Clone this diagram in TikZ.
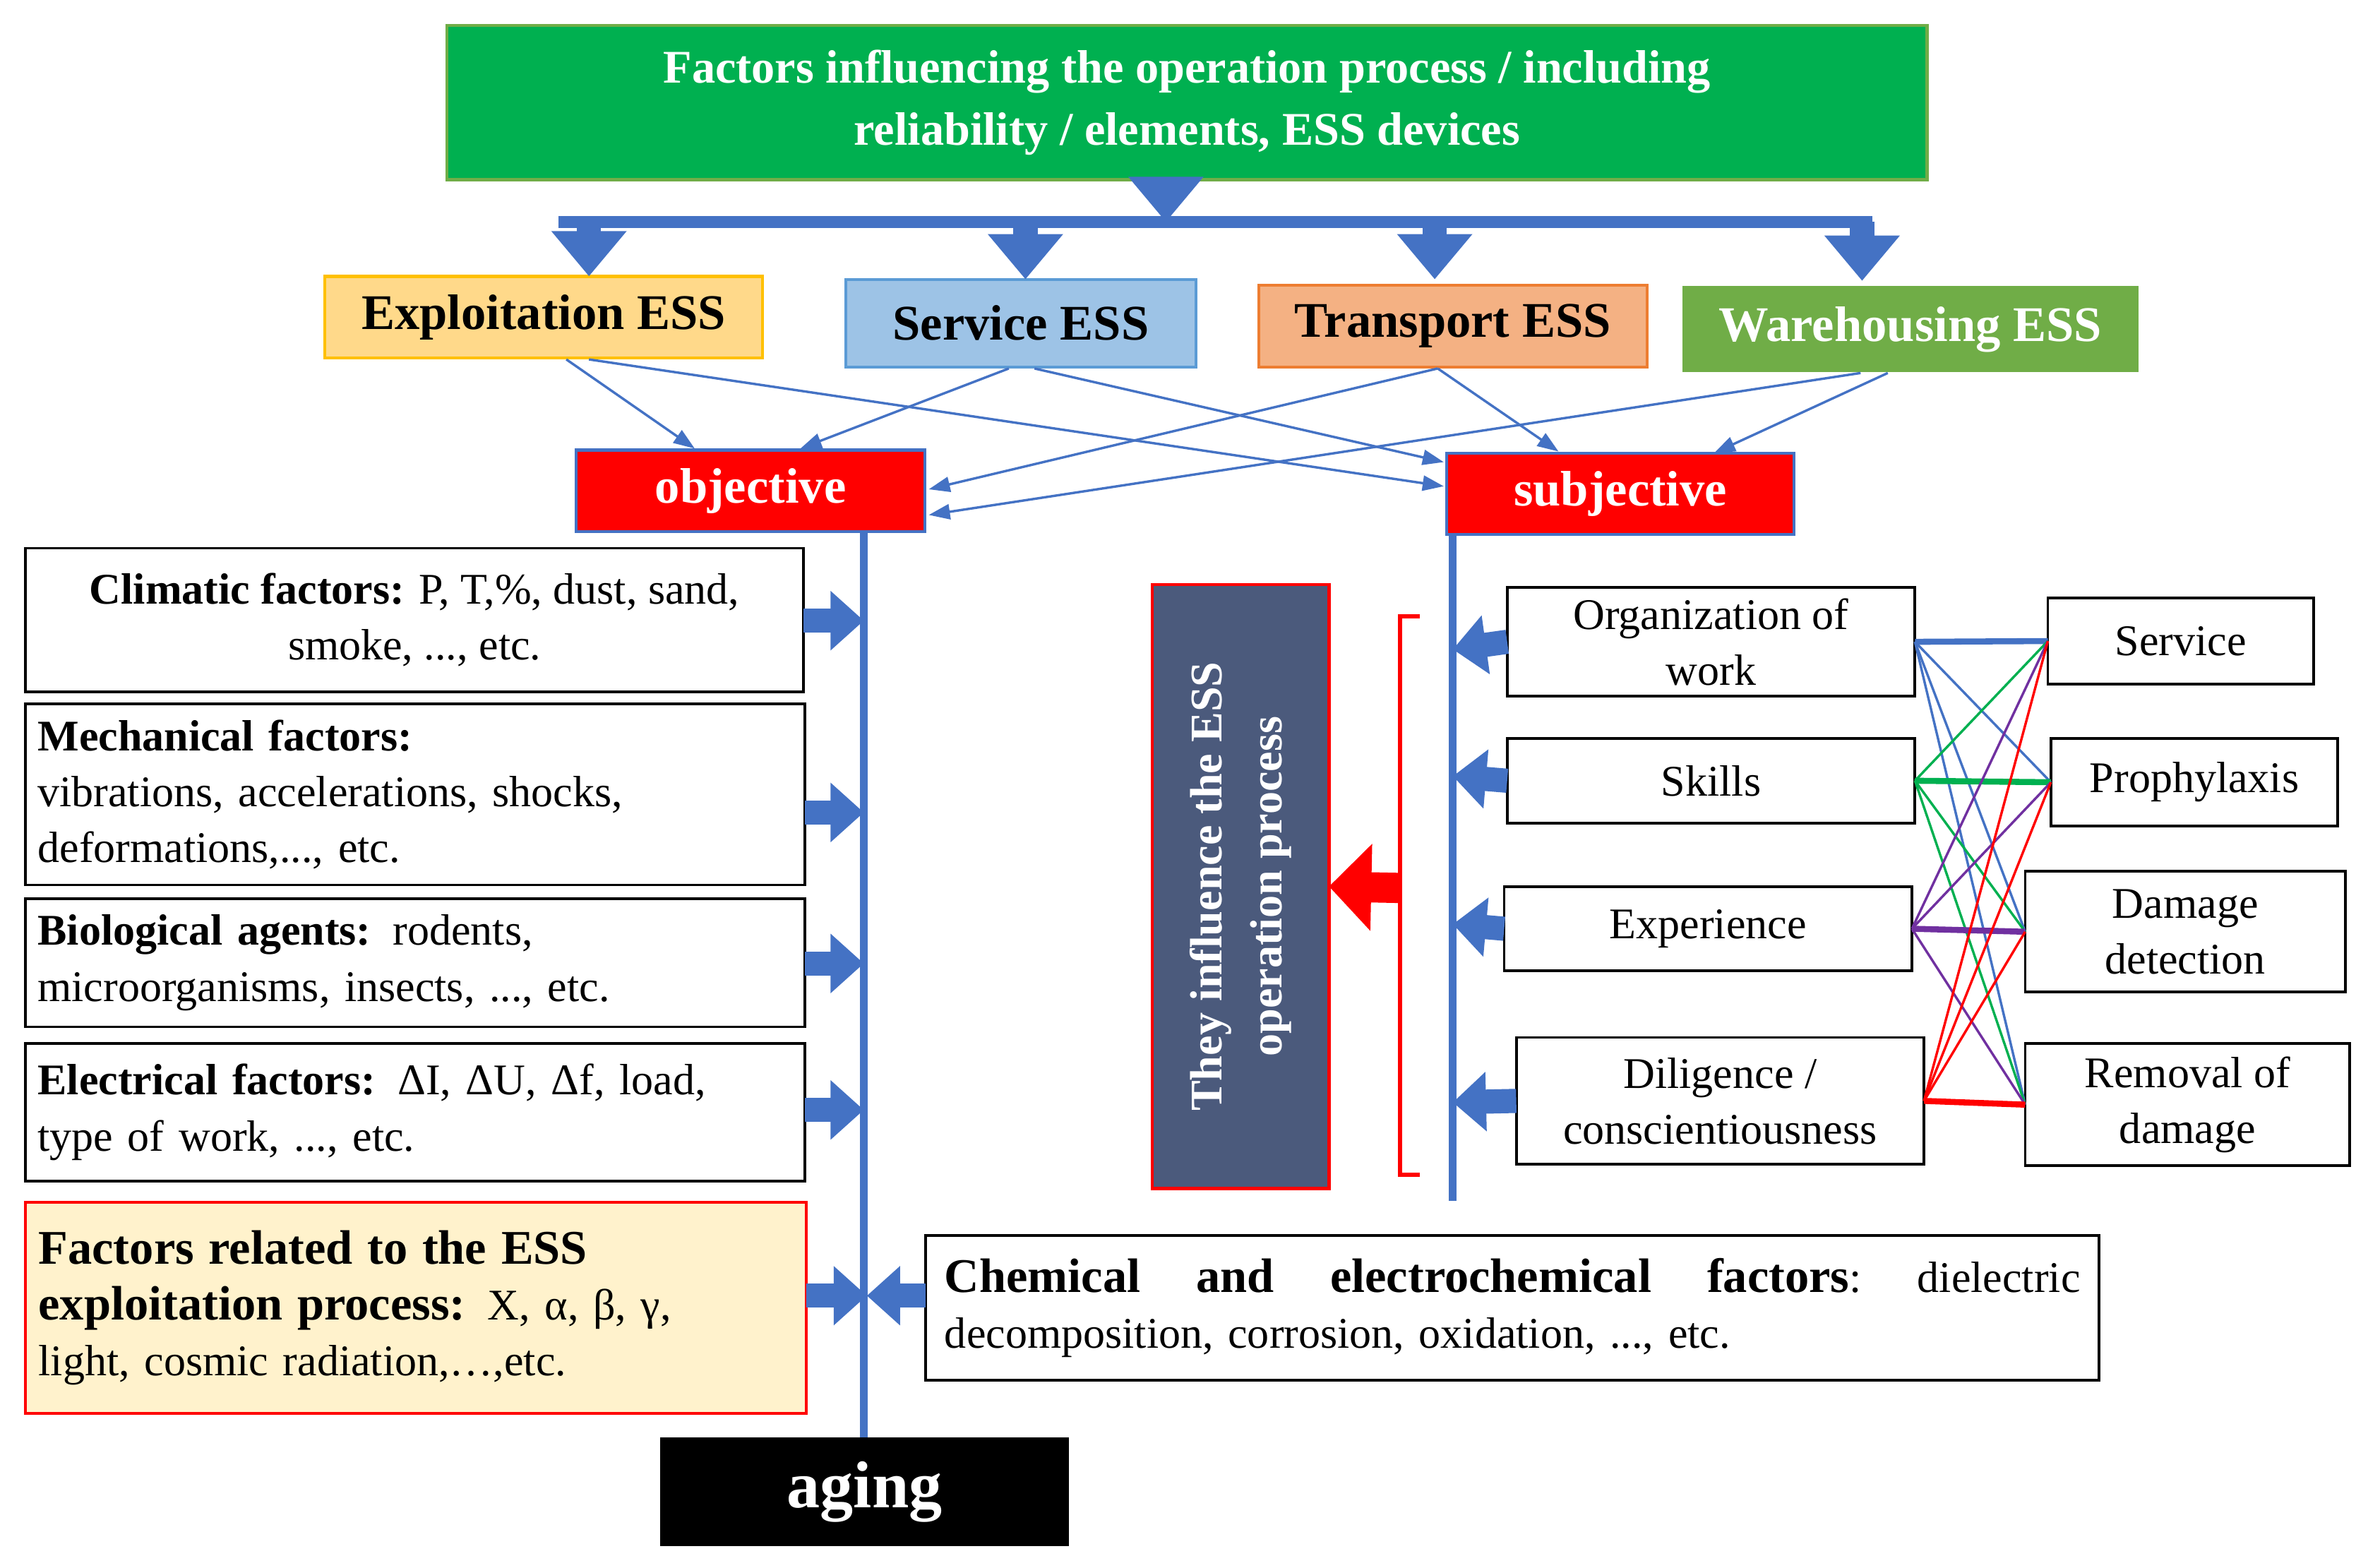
\documentclass[tikz,border=0pt]{standalone}
\usepackage{fontspec}
\setmainfont{Liberation Serif}
\usetikzlibrary{arrows.meta}
\definecolor{blueA}{HTML}{4472C4}
\definecolor{greenT}{HTML}{00B050}
\definecolor{yelF}{HTML}{FFD98A}
\definecolor{yelD}{HTML}{FFC000}
\definecolor{blueF}{HTML}{9DC3E6}
\definecolor{blueD}{HTML}{5B9BD5}
\definecolor{orF}{HTML}{F4B183}
\definecolor{orD}{HTML}{ED7D31}
\definecolor{grW}{HTML}{70AD47}
\definecolor{slate}{HTML}{4B5A7C}
\definecolor{cream}{HTML}{FFF2CC}
\definecolor{purp}{HTML}{7030A0}
\begin{document}
\begin{tikzpicture}[x=0.5pt,y=-0.5pt,
  every node/.style={inner sep=0pt,outer sep=0pt},
  box/.style={draw=black,line width=0.9pt,fill=white,font=\fontsize{14.5}{18.5}\selectfont},
  head/.style={font=\fontsize{16.5}{20}\selectfont\bfseries},
  redb/.style={fill=red,draw=blueA,line width=1pt,text=white,font=\fontsize{16.5}{20}\selectfont\bfseries},
  blk/.style={draw=blueA,line width=8pt,-{Triangle[length=11pt,width=19pt]}},
  blkd/.style={draw=blueA,line width=8pt,-{Triangle[length=15pt,width=24pt]}},
  thin/.style={draw=blueA,line width=0.8pt,-{Triangle[length=7pt,width=5pt]}},
  vline/.style={draw=blueA,line width=2.5pt},
  cl/.style={line width=0.8pt},
  clt/.style={line width=2pt}]
\useasboundingbox (0,0) rectangle (1568,1038);
% top
\node[fill=greenT,draw=grW,line width=1pt,minimum width=490pt,minimum height=51pt,text=white,align=center,font=\fontsize{15.5}{20.5}\selectfont\bfseries] (top) at (786,68) {Factors influencing the operation process / including\\reliability / elements, ESS devices};
\node[head,fill=yelF,draw=yelD,line width=1pt,minimum width=145pt,minimum height=27pt] (expl) at (360,210) {Exploitation ESS};
\node[head,fill=blueF,draw=blueD,line width=1pt,minimum width=116pt,minimum height=29pt] (serv) at (676,214) {Service ESS};
\node[head,fill=orF,draw=orD,line width=1pt,minimum width=128.5pt,minimum height=27pt] (trans) at (962,216) {Transport ESS};
\node[head,fill=grW,text=white,minimum width=151pt,minimum height=28.5pt] (ware) at (1265,218) {Warehousing ESS};
\node[redb,minimum width=115.5pt,minimum height=27pt] (obj) at (497,325) {objective};
\node[redb,minimum width=115pt,minimum height=27pt] (subj) at (1073,327) {subjective};
% bar and arrows
\coordinate (bc) at (772,147);
\coordinate (b1) at (390,147);\coordinate (b2) at (679,147);\coordinate (b3) at (950,147);\coordinate (b4) at (1233,147);
\draw[blueA,line width=4pt] (370,147) -- (1240,147);
\draw[blkd] (top.south -| bc) -- (bc);
\draw[blkd] (b1) -- (390,183);
\draw[blkd] (b2) -- (679,185);
\draw[blkd] (b3) -- (950,185);
\draw[blkd] (b4) -- (1233,186);
% thin arrows
\draw[thin] (375,238) -- (460,297);
\draw[thin] (390,238) -- (956,322);
\draw[thin] (668,244) -- (530,297);
\draw[thin] (685,244) -- (956,306);
\draw[thin] (952,244) -- (615,324);
\draw[thin] (952,244) -- (1032,299);
\draw[thin] (1232,247) -- (615,341);
\draw[thin] (1250,247) -- (1135,300);
% left boxes
\node[box,minimum width=257.5pt,minimum height=47.5pt,align=center] (clim) at (274.5,410.5) {\textbf{Climatic factors:} P, T,\%, dust, sand,\\smoke, ..., etc.};
\node[box,minimum width=258pt,minimum height=60pt,text width=250pt,align=left] (mech) at (275,526) {\textbf{Mechanical factors:}\\vibrations, accelerations, shocks,\\deformations,..., etc.};
\node[box,minimum width=258pt,minimum height=42.5pt,text width=250pt,align=left] (bio) at (275,637.5) {\textbf{Biological agents:} rodents,\\microorganisms, insects, ..., etc.};
\node[box,minimum width=258pt,minimum height=45.5pt,text width=250pt,align=left] (elec) at (275,736.5) {\textbf{Electrical factors:} ΔI, ΔU, Δf, load,\\type of work, ..., etc.};
\node[box,fill=cream,draw=red,minimum width=258.5pt,minimum height=70pt,text width=250pt,align=left,font=\fontsize{14.5}{18.5}\selectfont] (rel) at (275.5,866) {{\fontsize{16}{19.5}\selectfont\bfseries Factors related to the ESS\\exploitation process:} X, α, β, γ,\\light, cosmic radiation,…,etc.};
\node[box,minimum width=388.5pt,minimum height=48pt,text width=376pt,align=left] (chem) at (1001.5,866) {{\fontsize{16}{19.5}\selectfont\bfseries Chemical\hfill and\hfill electrochemical\hfill factors}:\hfill dielectric\\decomposition, corrosion, oxidation, ..., etc.};
\node[fill=black,text=white,minimum width=135.5pt,minimum height=36pt,font=\fontsize{22}{26}\selectfont\bfseries] (aging) at (572.5,988) {aging};
% vertical lines
\coordinate (se) at (962,795);
\draw[vline] (obj.south -| 572,0) -- (aging.north -| 572,0);
\draw[vline] (subj.south -| se) -- (se);
% right-pointing block arrows
\draw[blk] (clim.east |- 0,411) -- (572,411);
\draw[blk] (mech.east |- 0,538) -- (572,538);
\draw[blk] (bio.east |- 0,638) -- (572,638);
\draw[blk] (elec.east |- 0,735) -- (572,735);
\draw[blk] (rel.east |- 0,858) -- (574,858);
\draw[blk] (chem.west |- 0,858) -- (574,858);
% influence block
\node[fill=slate,draw=red,line width=1pt,minimum width=58.5pt,minimum height=200pt] (infl) at (821.5,587) {};
\node[rotate=90,text=white,align=center,font=\fontsize{15}{20}\selectfont\bfseries] at (infl.center) {They influence the ESS\\operation process};
\coordinate (br) at (927,588);
\draw[red,line width=1.5pt] (940,408) -- (927,408) -- (927,778) -- (940,778);
\draw[red,line width=10pt,-{Triangle[length=14pt,width=28pt]}] (br) -- (infl.east);
% subjective factors
\node[box,minimum width=135pt,minimum height=36pt,align=center] (org) at (1133,425) {Organization of\\work};
\node[box,minimum width=135pt,minimum height=28pt] (ski) at (1133,517) {Skills};
\node[box,minimum width=135pt,minimum height=28pt] (exp) at (1131,615) {Experience};
\node[box,minimum width=135pt,minimum height=42pt,align=center] (dil) at (1139,729) {Diligence /\\conscientiousness};
\draw[blk] (org.west) -- (962,430);
\draw[blk] (ski.west) -- (962,514);
\draw[blk] (exp.west) -- (962,612);
\draw[blk] (dil.west) -- (962,730);
\node[box,minimum width=88pt,minimum height=28.5pt] (rs) at (1444,424.5) {Service};
\node[box,minimum width=95pt,minimum height=29pt] (rp) at (1453,518) {Prophylaxis};
\node[box,minimum width=106pt,minimum height=40pt,align=center] (rd) at (1447,617) {Damage\\detection};
\node[box,minimum width=107.5pt,minimum height=40.5pt,align=center] (rr) at (1448.5,731.5) {Removal of\\damage};
% colored links
\draw[blueA,clt] (org.east) -- (rs.west);
\draw[blueA,cl] (org.east) -- (rp.west); \draw[blueA,cl] (org.east) -- (rd.west); \draw[blueA,cl] (org.east) -- (rr.west);
\draw[greenT,clt] (ski.east) -- (rp.west);
\draw[greenT,cl] (ski.east) -- (rs.west); \draw[greenT,cl] (ski.east) -- (rd.west); \draw[greenT,cl] (ski.east) -- (rr.west);
\draw[purp,clt] (exp.east) -- (rd.west);
\draw[purp,cl] (exp.east) -- (rs.west); \draw[purp,cl] (exp.east) -- (rp.west); \draw[purp,cl] (exp.east) -- (rr.west);
\draw[red,clt] (dil.east) -- (rr.west);
\draw[red,cl] (dil.east) -- (rs.west); \draw[red,cl] (dil.east) -- (rp.west); \draw[red,cl] (dil.east) -- (rd.west);
\end{tikzpicture}
\end{document}
